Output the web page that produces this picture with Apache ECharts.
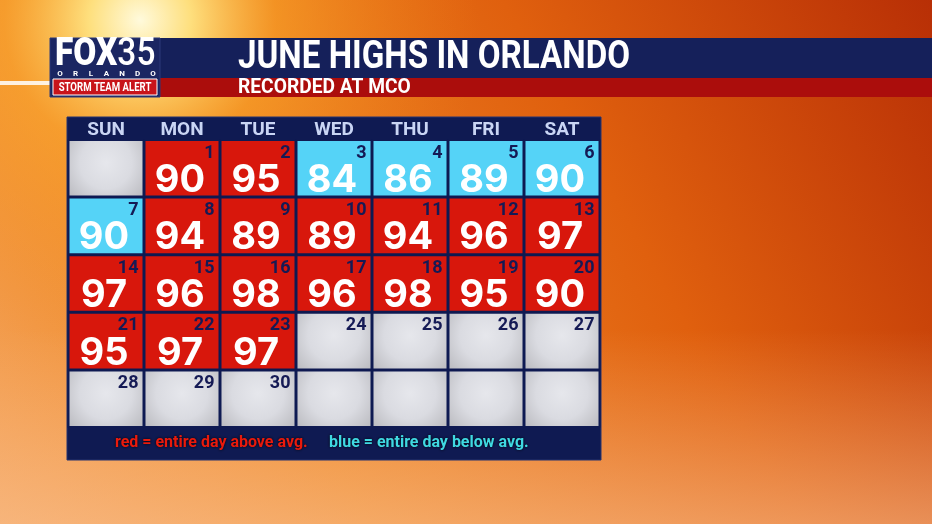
<!DOCTYPE html>
<html>
<head>
<meta charset="utf-8">
<title>June Highs in Orlando</title>
<script src="https://cdn.jsdelivr.net/npm/echarts@6/dist/echarts.min.js"></script>
<style>
  html, body { margin: 0; padding: 0; background: #e8701a; }
  #chart { width: 932px; height: 524px; }
</style>
</head>
<body>
<div id="chart"></div>
<script>
// June high temperatures (degrees F), recorded at MCO
var highs = [90, 95, 84, 86, 89, 90, 90, 94, 89, 89, 94, 96, 97, 97, 96, 98, 96, 98, 95, 90, 95, 97, 97];
// days of June that were entirely below average (the rest with data were above)
var belowDays = [3, 4, 5, 6, 7];
var weekDays = ['SUN', 'MON', 'TUE', 'WED', 'THU', 'FRI', 'SAT'];
var calRange = ['2020-05-31', '2020-07-04'];

var NAVY = '#0f1a52';
var RED = '#d8170c';
var BLUE = '#55d3f7';

// one entry per calendar cell: [date, high, kind, dayOfMonth]
var cells = [];
for (var i = 0; i < 35; i++) {
    var day = new Date(2020, 4, 31 + i);
    var ds = echarts.time.format(day, '{yyyy}-{MM}-{dd}', false);
    var kind = 'none', hi = null, dom = null;
    if (day.getMonth() === 5) {
        dom = day.getDate();
        if (dom <= highs.length) {
            hi = highs[dom - 1];
            kind = belowDays.indexOf(dom) >= 0 ? 'below' : 'above';
        }
    }
    cells.push([ds, hi, kind, dom]);
}

var chart = echarts.init(document.getElementById('chart'));

function renderCell(params, api) {
    var pt = api.coord(api.value(0));
    var cw = params.coordSys.cellWidth;
    var ch = params.coordSys.cellHeight;
    var x = pt[0] - cw / 2 + 1.5, y = pt[1] - ch / 2 + 1.5;
    var w = cw - 3, h = ch - 3;
    var kind = api.value(2);
    var fill;
    if (kind === 'above') fill = RED;
    else if (kind === 'below') fill = BLUE;
    else fill = new echarts.graphic.RadialGradient(0.5, 0.4, 0.95, [
        { offset: 0, color: '#e6e7ec' },
        { offset: 0.5, color: '#dadbe1' },
        { offset: 1, color: '#b8b8bd' }
    ]);
    var children = [{
        type: 'rect',
        shape: { x: x, y: y, width: w, height: h },
        style: { fill: fill }
    }];
    var dom = api.value(3);
    if (dom) {
        children.push({
            type: 'text',
            x: x + w - 4, y: y + 3,
            style: {
                text: String(dom), fill: '#151a55',
                font: 'bold 18px Roboto', align: 'right', verticalAlign: 'top'
            }
        });
    }
    var hi = api.value(1);
    if (hi != null && !isNaN(hi)) {
        children.push({
            type: 'text',
            x: pt[0] - 2, y: pt[1] + 12,
            style: {
                text: String(hi), fill: '#ffffff',
                font: 'bold 38px Inter', align: 'center', verticalAlign: 'middle'
            }
        });
    }
    return { type: 'group', children: children };
}

var logoLetters = 'ORLANDO'.split('');
var logoGraphics = logoLetters.map(function (ch, k) {
    return {
        type: 'text', z: 3, x: 60 + k * 15.5, y: 74,
        style: {
            text: ch, fill: '#ffffff',
            font: 'bold 8px Roboto', align: 'center', verticalAlign: 'middle'
        }
    };
});

chart.setOption({
    animation: false,
    graphic: [
        // sky background
        {
            type: 'rect', z: -10, silent: true,
            shape: { x: 0, y: 0, width: 932, height: 524 },
            style: {
                fill: new echarts.graphic.LinearGradient(1, 0, 0, 1, [
                    { offset: 0, color: '#b82f06' },
                    { offset: 0.35, color: '#e0600e' },
                    { offset: 0.7, color: '#ef8a2a' },
                    { offset: 1, color: '#f4a35a' }
                ])
            }
        },
        {
            type: 'circle', z: -9, silent: true,
            shape: { cx: 140, cy: 20, r: 340 },
            style: {
                fill: new echarts.graphic.RadialGradient(0.5, 0.5, 0.5, [
                    { offset: 0, color: 'rgba(255,250,220,1)' },
                    { offset: 0.15, color: 'rgba(255,228,130,0.95)' },
                    { offset: 0.4, color: 'rgba(250,165,40,0.6)' },
                    { offset: 1, color: 'rgba(240,130,20,0)' }
                ])
            }
        },
        {
            type: 'rect', z: -8, silent: true,
            shape: { x: 0, y: 330, width: 932, height: 194 },
            style: {
                fill: new echarts.graphic.LinearGradient(0, 0, 0, 1, [
                    { offset: 0, color: 'rgba(250,190,140,0)' },
                    { offset: 1, color: 'rgba(250,195,150,0.55)' }
                ])
            }
        },
        {
            type: 'rect', z: -7, silent: true,
            shape: { x: 0, y: 81, width: 60, height: 4 },
            style: { fill: 'rgba(255,255,255,0.85)' }
        },
        // title bars
        {
            type: 'rect', z: 1, silent: true,
            shape: { x: 160, y: 38, width: 772, height: 40 },
            style: { fill: '#15205a' }
        },
        {
            type: 'rect', z: 1, silent: true,
            shape: { x: 160, y: 78, width: 772, height: 19 },
            style: { fill: '#ab0d0c' }
        },
        {
            type: 'text', z: 2, x: 238, y: 58, scaleX: 0.85, originX: 0,
            style: {
                text: 'JUNE HIGHS IN ORLANDO', fill: '#ffffff',
                font: 'bold 39px Roboto', verticalAlign: 'middle'
            }
        },
        {
            type: 'text', z: 2, x: 238, y: 88, scaleX: 0.96, originX: 0,
            style: {
                text: 'RECORDED AT MCO', fill: '#ffffff',
                font: 'bold 20px Roboto', verticalAlign: 'middle'
            }
        },
        // logo
        {
            type: 'rect', z: 2, silent: true,
            shape: { x: 50, y: 38, width: 110, height: 59 },
            style: { fill: '#1b2662', stroke: '#2c3878', lineWidth: 1 }
        },
        {
            type: 'text', z: 3, x: 55, y: 55, scaleX: 0.88, originX: 0,
            style: {
                text: '{a|FOX}{b|35}', fill: '#ffffff', verticalAlign: 'middle',
                rich: {
                    a: { font: '900 38px Roboto', fill: '#ffffff' },
                    b: { font: '500 38px Roboto', fill: '#ffffff' }
                }
            }
        }
    ].concat(logoGraphics).concat([
        {
            type: 'rect', z: 3, silent: true,
            shape: { x: 53, y: 79, width: 104, height: 16 },
            style: { fill: '#c8141a', stroke: '#ffffff', lineWidth: 1 }
        },
        {
            type: 'text', z: 4, x: 105, y: 87.5, scaleX: 0.8, originX: 0,
            style: {
                text: 'STORM TEAM ALERT', fill: '#ffffff',
                font: 'bold 12px Roboto', align: 'center', verticalAlign: 'middle'
            }
        },
        // calendar frame
        {
            type: 'rect', z: 0, silent: true,
            shape: { x: 67, y: 117, width: 534, height: 343 },
            style: { fill: NAVY, stroke: '#26336e', lineWidth: 1 }
        },
        {
            type: 'text', z: 3, x: 115, y: 443, scaleX: 0.94, originX: 0,
            style: {
                text: 'red = entire day above avg.', fill: '#ea1a0c',
                font: 'bold 17px Roboto', verticalAlign: 'middle',
                textShadowColor: 'rgba(0,0,0,0.9)', textShadowBlur: 3
            }
        },
        {
            type: 'text', z: 3, x: 329, y: 443, scaleX: 0.94, originX: 0,
            style: {
                text: 'blue = entire day below avg.', fill: '#3fd9e2',
                font: 'bold 17px Roboto', verticalAlign: 'middle',
                textShadowColor: 'rgba(0,0,0,0.9)', textShadowBlur: 3
            }
        }
    ]),
    calendar: {
        orient: 'vertical',
        left: 68,
        top: 139.5,
        cellSize: [76, 57.6],
        range: calRange,
        splitLine: { show: false },
        itemStyle: { color: NAVY, borderColor: NAVY, borderWidth: 1 },
        dayLabel: {
            firstDay: 0,
            position: 'start',
            nameMap: weekDays,
            color: '#c9d5f4',
            fontFamily: 'Roboto',
            fontWeight: 'bold',
            fontSize: 19,
            margin: 0
        },
        monthLabel: { show: false },
        yearLabel: { show: false }
    },
    series: [{
        type: 'custom',
        coordinateSystem: 'calendar',
        renderItem: renderCell,
        data: cells,
        z: 5
    }]
});
</script>
</body>
</html>
